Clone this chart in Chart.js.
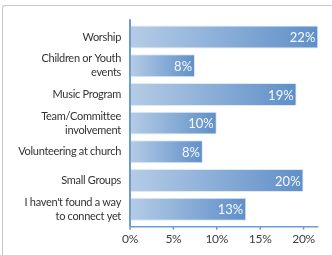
<!DOCTYPE html>
<html>
<head>
<meta charset="utf-8">
<script src="https://cdn.jsdelivr.net/npm/chart.js@4.4.0/dist/chart.umd.min.js"></script>
<style>
  html, body { margin: 0; padding: 0; background: #fff; overflow: hidden; }
  #wrap { position: relative; width: 332px; height: 255px; }
  #frame { position: absolute; left: 2px; top: 5px; width: 400px; height: 300px;
           border-left: 1px solid #c8c8c8; border-top: 1px solid #c8c8c8; border-top-left-radius: 3px; }
  canvas { position: absolute; left: 0; top: 0; }
</style>
</head>
<body>
<div id="wrap">
  <div id="frame"></div>
  <canvas id="c" width="332" height="255"></canvas>
</div>
<script>
const categories = [
  "Worship",
  ["Children or Youth", "events"],
  "Music Program",
  ["Team/Committee", "involvement"],
  "Volunteering at church",
  "Small Groups",
  ["I haven't found a way", "to connect yet"]
];
const values = [21.7, 7.5, 19.2, 10.0, 8.4, 20.0, 13.4];
const valueLabels = ["22%", "8%", "19%", "10%", "8%", "20%", "13%"];
const tickValues = [0, 5, 10, 15, 20];

const FONT = "Lato, 'Open Sans', sans-serif";

function barGradient(ctx) {
  const chart = ctx.chart;
  const area = chart.chartArea;
  if (!area || ctx.type !== 'data') return '#7fa6d6';
  const xs = chart.scales.x;
  const x0 = xs.getPixelForValue(0);
  const x1 = xs.getPixelForValue(ctx.parsed ? ctx.parsed.x : values[ctx.dataIndex]);
  const g = chart.ctx.createLinearGradient(x0, 0, Math.max(x1, x0 + 1), 0);
  g.addColorStop(0, '#b5cce6');
  g.addColorStop(1, '#5f8fc8');
  return g;
}

const axisPlugin = {
  id: 'axisLines',
  beforeDraw(chart) {
    chart.ctx.letterSpacing = '-0.3px';
  },
  afterDatasetsDraw(chart) {
    const c = chart.ctx, a = chart.chartArea, xs = chart.scales.x;
    c.save();
    c.strokeStyle = '#6d9bd3';
    c.lineWidth = 1.5;
    const yb = a.bottom + 3.2;
    c.beginPath();
    c.moveTo(a.left, yb);
    c.lineTo(a.right, yb);
    c.stroke();
    tickValues.forEach(v => {
      const x = xs.getPixelForValue(v);
      c.beginPath();
      c.moveTo(x, yb);
      c.lineTo(x, yb + 3);
      c.stroke();
    });
    c.lineWidth = 2;
    c.beginPath();
    c.moveTo(a.left, a.top - 3.5);
    c.lineTo(a.left, yb);
    c.stroke();
    // value labels
    const meta = chart.getDatasetMeta(0);
    c.letterSpacing = '0px';
    c.fillStyle = 'rgba(255,255,255,0.95)';
    c.font = '13px ' + FONT;
    c.textAlign = 'right';
    c.textBaseline = 'middle';
    meta.data.forEach((bar, i) => {
      c.fillText(valueLabels[i], bar.x - 3, bar.y + 1);
    });
    c.restore();
  }
};

new Chart(document.getElementById('c'), {
  type: 'bar',
  data: {
    labels: categories,
    datasets: [{
      data: values,
      backgroundColor: barGradient,
      borderColor: 'rgba(220,232,245,0.9)',
      borderWidth: 1,
      borderSkipped: false,
      categoryPercentage: 1.0,
      barPercentage: 0.8
    }]
  },
  options: {
    indexAxis: 'y',
    responsive: false,
    animation: false,
    devicePixelRatio: 1,
    layout: { padding: { left: 0, right: 13.7, top: 10.5, bottom: 0 } },
    plugins: { legend: { display: false }, tooltip: { enabled: false } },
    scales: {
      y: {
        grid: { display: false, drawTicks: false },
        border: { display: false },
        ticks: { color: '#333333', font: { family: FONT, size: 11, lineHeight: 1.25 }, padding: 9, autoSkip: false },
        afterFit(s) { s.width = 130; }
      },
      x: {
        min: 0,
        max: 21.7,
        grid: { display: false, drawTicks: false },
        border: { display: false },
        afterBuildTicks(s) { s.ticks = tickValues.map(v => ({ value: v })); },
        ticks: {
          color: '#3c3c3c',
          font: { family: FONT, size: 12 },
          padding: 8,
          callback: v => v + '%'
        },
        afterFit(s) { s.height = 31.5; }
      }
    }
  },
  plugins: [axisPlugin]
});
</script>
</body>
</html>
